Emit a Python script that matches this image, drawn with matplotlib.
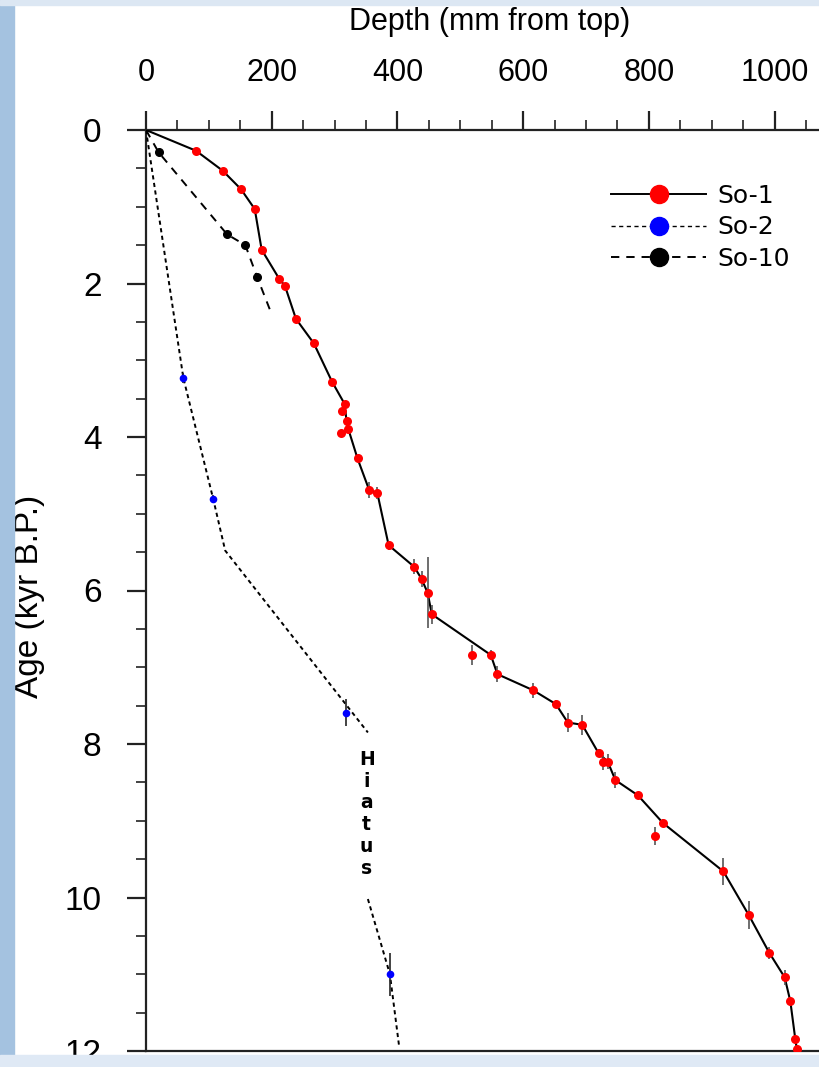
import matplotlib
matplotlib.use("Agg")
import matplotlib.pyplot as plt
from matplotlib.patches import Rectangle
from matplotlib.ticker import MultipleLocator
from matplotlib.lines import Line2D

# So-1: dated samples (depth mm, age kyr) with 1-sigma errors
so1_depth = [79.5, 122, 151, 173, 184, 212, 221, 238.5, 267, 296, 316, 312, 319, 322,
             309.5, 336.5, 355, 368, 386, 426.5, 438.5, 448, 454.7, 519, 548.5, 559,
             616, 652, 671, 694, 720, 727.5, 734.5, 746.7, 782.7, 810, 822.5, 918.5,
             959, 991.5, 1016, 1025, 1033, 1035.5]
so1_age = [0.27, 0.53, 0.77, 1.03, 1.56, 1.94, 2.03, 2.46, 2.78, 3.28, 3.57, 3.66, 3.79,
           3.90, 3.95, 4.28, 4.69, 4.73, 5.41, 5.69, 5.85, 6.03, 6.31, 6.84, 6.84, 7.09,
           7.30, 7.48, 7.72, 7.75, 8.12, 8.24, 8.23, 8.47, 8.67, 9.20, 9.03, 9.66,
           10.23, 10.72, 11.04, 11.35, 11.85, 11.98]
so1_err = [0.02, 0.02, 0.02, 0.02, 0.02, 0.02, 0.02, 0.02, 0.02, 0.03, 0.03, 0.03, 0.03,
           0.03, 0.03, 0.04, 0.1, 0.08, 0.06, 0.1, 0.1, 0.46, 0.12, 0.13, 0.06, 0.1,
           0.1, 0.05, 0.13, 0.13, 0.05, 0.1, 0.1, 0.1, 0.05, 0.12, 0.05, 0.18,
           0.18, 0.08, 0.1, 0.05, 0.05, 0.03]
# So-1 age model
so1_model_depth = [0, 79.5, 122, 151, 173, 184, 212, 221, 238.5, 267, 296, 316, 319, 322,
                   336.5, 355, 368, 386, 426.5, 438.5, 448, 454.7, 548.5, 559, 616, 652,
                   671, 694, 720, 734.5, 746.7, 782.7, 822.5, 918.5, 959, 991.5, 1016,
                   1025, 1033, 1035.5]
so1_model_age = [0, 0.27, 0.53, 0.77, 1.03, 1.56, 1.94, 2.03, 2.46, 2.78, 3.28, 3.57, 3.79,
                 3.90, 4.28, 4.69, 4.73, 5.41, 5.69, 5.85, 6.03, 6.31, 6.84, 7.09, 7.30,
                 7.48, 7.72, 7.75, 8.12, 8.23, 8.47, 8.67, 9.03, 9.66, 10.23, 10.72,
                 11.04, 11.35, 11.85, 11.98]

# So-2
so2_depth = [59.4, 107, 317.5, 388]
so2_age = [3.23, 4.81, 7.59, 11.0]
so2_err = [0.07, 0.05, 0.17, 0.28]
so2_model1_depth = [0, 59.4, 107, 126, 353]
so2_model1_age = [0, 3.23, 4.81, 5.48, 7.85]
so2_model2_depth = [353, 388, 403]
so2_model2_age = [10.02, 11.0, 11.96]

# So-10
so10_depth = [20, 129, 158, 177]
so10_age = [0.29, 1.36, 1.50, 1.92]
so10_model_depth = [0, 20, 129, 158, 177, 198]
so10_model_age = [0, 0.29, 1.36, 1.50, 1.92, 2.36]

plt.rcParams['lines.scale_dashes'] = False
W, H = 819, 1067
fig = plt.figure(figsize=(W / 100, H / 100), dpi=100)
ax = fig.add_axes([146 / W, 1 - 1051 / H, 1 - 146 / W, (1051 - 130) / H])

dotted = (0, (3, 2.5))
dashed = (0, (6, 5))

ax.plot(so1_model_depth, so1_model_age, color="black", lw=1.5, zorder=3)
ax.plot(so2_model1_depth, so2_model1_age, color="black", lw=1.4, linestyle=dotted, zorder=3)
ax.plot(so2_model2_depth, so2_model2_age, color="black", lw=1.4, linestyle=dotted, zorder=3)
ax.plot(so10_model_depth, so10_model_age, color="black", lw=1.4, linestyle=dashed, zorder=3)

ax.errorbar(so1_depth, so1_age, yerr=so1_err, fmt='o', color="red", ms=6.5, mew=0,
            ecolor="#555555", elinewidth=1.2, zorder=4)
ax.errorbar(so2_depth, so2_age, yerr=so2_err, fmt='o', color="blue", ms=5.5, mew=0,
            ecolor="#222222", elinewidth=1.2, zorder=4)
ax.plot(so10_depth, so10_age, 'o', color="black", ms=5.5, zorder=4)

ax.text(351, 8.91, "H\ni\na\nt\nu\ns", ha="center", va="center", fontsize=13.5,
        fontweight="bold", family="DejaVu Sans", linespacing=1.18)

ax.set_xlim(0, (W - 146) / 0.6286)
ax.set_ylim(12, 0)
ax.xaxis.tick_top()
ax.xaxis.set_major_locator(MultipleLocator(200))
ax.xaxis.set_minor_locator(MultipleLocator(50))
ax.yaxis.set_major_locator(MultipleLocator(2))
ax.yaxis.set_minor_locator(MultipleLocator(0.5))
ax.tick_params(which="major", direction="out", length=14, width=1.6, color="#222222",
               labelsize=22, pad=16)
ax.tick_params(which="minor", direction="out", length=7, width=1.2, color="#222222")
ax.tick_params(axis="x", which="both", top=True, bottom=False)
ax.tick_params(axis="y", which="major", labelsize=24, pad=18)
for lab in ax.get_xticklabels() + ax.get_yticklabels():
    lab.set_family("Liberation Sans")
ax.spines["right"].set_visible(False)
for s in ["top", "left", "bottom"]:
    ax.spines[s].set_linewidth(1.6)
    ax.spines[s].set_color("#222222")

fig.text(490 / W, 1 - 22 / H, "Depth (mm from top)", ha="center", va="center",
         fontsize=22, family="Liberation Sans")
fig.text(30 / W, 1 - 596 / H, "Age (kyr B.P.)", ha="center", va="center",
         rotation=90, fontsize=24, family="Liberation Sans")

handles = [
    Line2D([], [], color="black", lw=1.4, marker='o', ms=13, mfc="red", mec="red"),
    Line2D([], [], color="black", lw=1.0, linestyle=dotted, marker='o', ms=13,
           mfc="blue", mec="blue"),
    Line2D([], [], color="black", lw=1.4, linestyle=dashed, marker='o', ms=13,
           mfc="black", mec="black"),
]
ax.legend(handles, ["So-1", "So-2", "So-10"], loc="upper left",
          bbox_to_anchor=(611 / W, 1 - 184 / H), bbox_transform=fig.transFigure,
          frameon=False, handlelength=3.8, handletextpad=0.45,
          labelspacing=0.29, borderpad=0, borderaxespad=0,
          prop={"family": "DejaVu Sans", "size": 18})

# page border strips of the source figure
fig.patches.append(Rectangle((0, 0), 14 / W, 1, transform=fig.transFigure,
                             color="#a4c2e0", zorder=10))
fig.patches.append(Rectangle((0, 1 - 5 / H), 1, 5 / H, transform=fig.transFigure,
                             color="#dce7f3", zorder=11))
fig.patches.append(Rectangle((0, 0), 1, 12 / H, transform=fig.transFigure,
                             color="#dfe9f5", zorder=11))

fig.savefig("out.png", dpi=100)
